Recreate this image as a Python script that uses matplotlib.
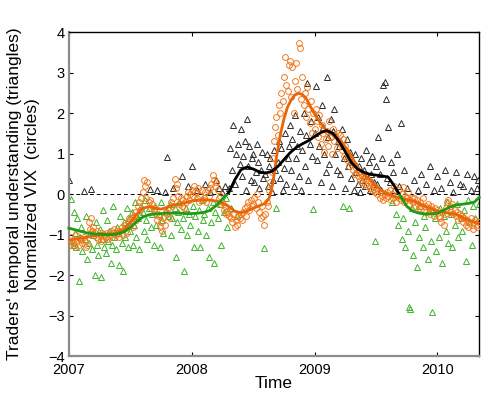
import numpy as np
import matplotlib
matplotlib.use('Agg')
import matplotlib.pyplot as plt
from matplotlib.patches import Rectangle

plt.rcParams['font.family'] = ['Liberation Sans', 'DejaVu Sans']

# observation dates (decimal years)
t = [2007.00, 2007.01, 2007.02, 2007.03, 2007.04, 2007.05, 2007.06, 2007.07, 2007.08, 2007.09,
     2007.10, 2007.11, 2007.12, 2007.13, 2007.14, 2007.15, 2007.16, 2007.17, 2007.18, 2007.19,
     2007.20, 2007.21, 2007.22, 2007.23, 2007.24, 2007.25, 2007.26, 2007.27, 2007.28, 2007.29,
     2007.30, 2007.31, 2007.32, 2007.33, 2007.34, 2007.35, 2007.36, 2007.37, 2007.38, 2007.39,
     2007.40, 2007.41, 2007.42, 2007.43, 2007.44, 2007.45, 2007.46, 2007.47, 2007.48, 2007.49,
     2007.50, 2007.51, 2007.52, 2007.53, 2007.54, 2007.55, 2007.56, 2007.57, 2007.58, 2007.59,
     2007.60, 2007.61, 2007.62, 2007.63, 2007.64, 2007.65, 2007.66, 2007.67, 2007.68, 2007.69,
     2007.70, 2007.71, 2007.72, 2007.73, 2007.74, 2007.75, 2007.76, 2007.77, 2007.78, 2007.79,
     2007.80, 2007.81, 2007.82, 2007.83, 2007.84, 2007.85, 2007.86, 2007.87, 2007.88, 2007.89,
     2007.90, 2007.91, 2007.92, 2007.93, 2007.94, 2007.95, 2007.96, 2007.97, 2007.98, 2007.99,
     2008.00, 2008.01, 2008.02, 2008.03, 2008.04, 2008.05, 2008.06, 2008.07, 2008.08, 2008.09,
     2008.10, 2008.11, 2008.12, 2008.13, 2008.14, 2008.15, 2008.16, 2008.17, 2008.18, 2008.19,
     2008.20, 2008.21, 2008.22, 2008.23, 2008.24, 2008.25, 2008.26, 2008.27, 2008.28, 2008.29,
     2008.30, 2008.31, 2008.32, 2008.33, 2008.34, 2008.35, 2008.36, 2008.37, 2008.38, 2008.39,
     2008.40, 2008.41, 2008.42, 2008.43, 2008.44, 2008.45, 2008.46, 2008.47, 2008.48, 2008.49,
     2008.50, 2008.51, 2008.52, 2008.53, 2008.54, 2008.55, 2008.56, 2008.57, 2008.58, 2008.59,
     2008.60, 2008.61, 2008.62, 2008.63, 2008.64, 2008.65, 2008.66, 2008.67, 2008.68, 2008.69,
     2008.70, 2008.71, 2008.72, 2008.73, 2008.74, 2008.75, 2008.76, 2008.77, 2008.78, 2008.79,
     2008.80, 2008.81, 2008.82, 2008.83, 2008.84, 2008.85, 2008.86, 2008.87, 2008.88, 2008.89,
     2008.90, 2008.91, 2008.92, 2008.93, 2008.94, 2008.95, 2008.96, 2008.97, 2008.98, 2008.99,
     2009.00, 2009.01, 2009.02, 2009.03, 2009.04, 2009.05, 2009.06, 2009.07, 2009.08, 2009.09,
     2009.10, 2009.11, 2009.12, 2009.13, 2009.14, 2009.15, 2009.16, 2009.17, 2009.18, 2009.19,
     2009.20, 2009.21, 2009.22, 2009.23, 2009.24, 2009.25, 2009.26, 2009.27, 2009.28, 2009.29,
     2009.30, 2009.31, 2009.32, 2009.33, 2009.34, 2009.35, 2009.36, 2009.37, 2009.38, 2009.39,
     2009.40, 2009.41, 2009.42, 2009.43, 2009.44, 2009.45, 2009.46, 2009.47, 2009.48, 2009.49,
     2009.50, 2009.51, 2009.52, 2009.53, 2009.54, 2009.55, 2009.56, 2009.57, 2009.58, 2009.59,
     2009.60, 2009.61, 2009.62, 2009.63, 2009.64, 2009.65, 2009.66, 2009.67, 2009.68, 2009.69,
     2009.70, 2009.71, 2009.72, 2009.73, 2009.74, 2009.75, 2009.76, 2009.77, 2009.78, 2009.79,
     2009.80, 2009.81, 2009.82, 2009.83, 2009.84, 2009.85, 2009.86, 2009.87, 2009.88, 2009.89,
     2009.90, 2009.91, 2009.92, 2009.93, 2009.94, 2009.95, 2009.96, 2009.97, 2009.98, 2009.99,
     2010.00, 2010.01, 2010.02, 2010.03, 2010.04, 2010.05, 2010.06, 2010.07, 2010.08, 2010.09,
     2010.10, 2010.11, 2010.12, 2010.13, 2010.14, 2010.15, 2010.16, 2010.17, 2010.18, 2010.19,
     2010.20, 2010.21, 2010.22, 2010.23, 2010.24, 2010.25, 2010.26, 2010.27, 2010.28, 2010.29,
     2010.30, 2010.31, 2010.32, 2010.33, 2010.34]

# traders' temporal understanding (triangles)
understanding = [
    0.35, -1.15, -0.12, -1.25, -0.45, -0.95, -1.3, -0.6, -2.15, -1.05,
    -0.8, -1.4, 0.07, -1.1, -0.55, -1.6, -1.2, -0.95, 0.12, -1.35,
    -1.0, -2.0, -0.7, -1.25, -1.5, -0.85, -2.05, -1.1, -0.4, -1.3,
    -1.45, -0.65, -1.15, -0.9, -1.7, -1.25, -0.3, -1.05, -1.35, -0.8,
    -0.95, -1.75, -0.55, -1.2, -1.9, -0.7, -1.05, -0.35, -1.3, -0.6,
    -0.9, -0.45, -1.25, -0.75, -0.2, -1.05, -0.6, -1.35, -0.5, -0.3,
    -0.45, -0.9, -0.15, -0.65, -1.1, -0.35, 0.12, -0.8, -0.5, -1.25,
    -0.3, -0.75, 0.1, -0.5, -1.3, -0.2, -0.65, -0.95, 0.05, -0.4,
    0.91, -0.55, -0.25, -1.0, -0.6, 0.15, -0.35, -1.55, -0.7, -0.45,
    -0.2, -0.85, 0.45, -0.6, -1.9, -0.35, -1.0, 0.2, -0.5, -0.75,
    0.69, -0.3, -1.3, -0.55, 0.1, -0.9, -0.4, -1.3, -0.15, -0.65,
    -0.5, 0.25, -1.0, -0.35, -1.55, 0.05, -0.7, -0.2, -1.7, -0.45,
    0.35, -0.6, 0.15, -0.25, -1.25, 0.05, -0.45, 0.2, -0.1, -0.8,
    0.15, 1.15, -0.35, 0.6, 1.7, 0.25, 1.0, -0.55, 1.25, 0.75,
    1.6, 0.45, 0.95, 1.3, 0.1, 1.85, 0.7, 1.2, 0.35, 0.9,
    1.0, 0.3, 0.55, 1.25, 0.8, 0.15, 0.6, 1.05, 0.4, -1.33,
    0.5, 1.0, 0.2, 0.7, 0.9, 0.05, 0.35, 1.1, 0.6, -0.35,
    0.8, 1.3, 0.4, 1.15, 0.1, 0.65, 1.5, 0.25, 0.9, 1.2,
    1.7, 0.6, 1.35, 0.2, 1.95, 0.9, 1.2, 0.45, 1.55, 0.1,
    1.1, 2.0, 0.7, 1.45, 2.74, 0.35, 1.25, 1.8, 0.95, -0.37,
    1.5, 2.67, 0.85, 1.9, 1.2, 0.3, 2.2, 1.65, 1.0, 0.55,
    2.89, 1.4, 0.75, 1.85, 0.2, 1.55, 2.1, 1.0, 0.6, 1.3,
    1.2, 0.5, 1.6, -0.3, 0.9, 0.15, 1.35, 0.7, -0.35, 1.05,
    0.4, 0.8, 0.1, 1.0, 0.55, 0.25, 0.7, 0.05, 0.9, 0.35,
    0.6, 0.2, 1.1, 0.45, 0.8, 0.1, 0.5, 0.95, 0.3, -1.16,
    0.7, 0.25, 1.4, 0.5, 0.1, 0.9, 2.69, 2.76, 2.35, 0.4,
    1.65, 0.3, 0.8, -0.2, 0.55, 0.1, -0.5, 1.0, -0.75, 0.2,
    1.75, -1.1, -0.6, 0.6, -1.3, 0.15, -0.9, -2.79, -2.84, -0.35,
    -1.5, 0.35, -0.7, -1.8, 0.1, -1.05, -0.3, 0.5, -1.3, -0.55,
    -0.8, 0.25, -1.6, -0.4, 0.7, -1.15, -2.91, 0.1, -0.6, -1.4,
    0.45, -1.05, -0.35, 0.15, -1.7, -0.55, 0.6, -0.9, -0.2, -1.2,
    0.3, -0.5, -1.3, 0.05, -0.75, 0.55, -0.25, -1.05, 0.25, -0.6,
    -0.9, 0.2, -0.4, -1.65, 0.5, -0.15, -0.7, 0.1, -1.25, -0.3,
    0.45, -0.6, 0.15, 0.35, -0.25]

# normalized VIX (circles)
vix = [
    -1.15, -1.25, -1.05, -1.2, -1.1, -1.3, -1.0, -1.15, -1.25, -1.1,
    -1.1, -1.2, -1.05, -1.15, -1.3, -1.25, -0.7, -0.85, -0.6, -0.9,
    -0.8, -0.95, -1.05, -0.9, -1.1, -1.0, -1.15, -0.95, -1.1, -1.0,
    -1.05, -0.95, -1.1, -1.0, -0.9, -1.05, -0.95, -0.85, -1.0, -0.9,
    -0.95, -1.05, -0.9, -0.8, -1.0, -0.85, -0.75, -0.95, -0.7, -0.6,
    -0.75, -0.6, -0.8, -0.55, -0.45, -0.65, -0.3, -0.2, -0.4, -0.1,
    0.05, 0.35, 0.2, -0.1, 0.3, -0.2, -0.15, -0.35, -0.25, -0.4,
    -0.35, -0.5, -0.65, -0.55, -0.8, -0.7, -0.9, -0.6, -0.75, -0.45,
    -0.5, -0.35, -0.6, -0.2, -0.3, -0.1, 0.37, 0.15, 0.24, -0.05,
    -0.25, -0.1, -0.3, -0.15, -0.35, -0.2, -0.05, 0.05, -0.15, 0.0,
    0.1, -0.05, 0.2, 0.05, -0.1, 0.15, -0.2, -0.05, 0.1, -0.15,
    -0.1, 0.05, -0.2, 0.1, -0.05, 0.15, 0.25, 0.47, 0.35, 0.2,
    0.3, 0.1, -0.1, -0.05, -0.25, -0.2, -0.4, -0.3, -0.5, -0.45,
    -0.55, -0.4, -0.6, -0.7, -0.5, -0.8, -0.65, -0.75, -0.55, -0.6,
    -0.5, -0.65, -0.45, -0.35, -0.55, -0.3, -0.2, -0.4, -0.15, -0.3,
    -0.25, -0.1, -0.35, 0.0, -0.2, -0.45, -0.6, -0.3, -0.55, -0.75,
    -0.5, -0.2, -0.3, 0.1, 0.3, 0.55, 0.9, 1.3, 1.65, 1.9,
    1.45, 2.2, 2.0, 2.5, 2.3, 2.9, 3.38, 2.7, 2.55, 3.2,
    3.3, 2.4, 3.15, 2.0, 2.8, 3.25, 2.6, 3.73, 3.6, 2.35,
    2.9, 2.2, 2.5, 1.9, 2.65, 2.1, 1.75, 2.3, 1.5, 2.0,
    1.6, 2.1, 1.8, 1.4, 1.95, 1.25, 1.7, 1.5, 1.05, 1.35,
    1.55, 1.2, 1.8, 1.4, 1.0, 1.6, 1.3, 1.45, 1.15, 1.5,
    1.3, 1.45, 1.1, 1.35, 0.95, 1.2, 0.85, 1.0, 0.7, 0.9,
    0.8, 0.6, 0.75, 0.5, 0.65, 0.45, 0.55, 0.35, 0.5, 0.3,
    0.4, 0.25, 0.45, 0.2, 0.35, 0.15, 0.3, 0.1, 0.2, 0.05,
    0.15, 0.0, 0.1, -0.1, 0.05, -0.05, -0.15, 0.0, -0.1, 0.05,
    -0.05, 0.1, -0.15, 0.0, -0.1, 0.2, -0.2, -0.05, 0.1, -0.1,
    -0.15, 0.0, 0.17, -0.2, -0.05, -0.1, 0.05, -0.25, -0.15, -0.1,
    -0.2, -0.1, -0.3, -0.15, -0.25, -0.35, -0.2, -0.3, -0.1, -0.4,
    -0.3, -0.45, -0.25, -0.35, -0.5, -0.3, -0.4, -0.55, -0.35, -0.45,
    -0.4, -0.55, -0.6, -0.7, -0.45, -0.75, -0.5, -0.35, -0.2, -0.15,
    -0.3, -0.45, -0.25, -0.5, -0.4, -0.55, -0.45, -0.65, -0.5, -0.6,
    -0.55, -0.7, -0.6, -0.75, -0.65, -0.8, -0.7, -0.6, -0.75, -0.85,
    -0.7, -0.65, -0.8, -0.75, -0.7]

# smoothed curves
trend_t = [2007.00, 2007.05, 2007.10, 2007.15, 2007.20, 2007.25, 2007.30, 2007.35, 2007.40, 2007.45,
           2007.50, 2007.55, 2007.60, 2007.65, 2007.70, 2007.75, 2007.80, 2007.85, 2007.90, 2007.95,
           2008.00, 2008.05, 2008.10, 2008.15, 2008.20, 2008.25, 2008.30, 2008.35, 2008.40, 2008.45,
           2008.50, 2008.55, 2008.60, 2008.65, 2008.70, 2008.75, 2008.80, 2008.85, 2008.90, 2008.95,
           2009.00, 2009.05, 2009.10, 2009.15, 2009.20, 2009.25, 2009.30, 2009.35, 2009.40, 2009.45,
           2009.50, 2009.55, 2009.60, 2009.65, 2009.70, 2009.75, 2009.80, 2009.85, 2009.90, 2009.95,
           2010.00, 2010.05, 2010.10, 2010.15, 2010.20, 2010.25, 2010.30, 2010.34]
trend_v = [-0.84, -0.88, -0.92, -0.96, -0.98, -0.99, -1.00, -1.00, -0.98, -0.93,
           -0.82, -0.68, -0.57, -0.51, -0.49, -0.48, -0.47, -0.47, -0.47, -0.48,
           -0.48, -0.47, -0.45, -0.40, -0.28, -0.12, 0.03, 0.35, 0.60, 0.67,
           0.62, 0.55, 0.52, 0.56, 0.68, 0.85, 1.02, 1.15, 1.24, 1.32,
           1.42, 1.52, 1.57, 1.50, 1.30, 1.05, 0.78, 0.62, 0.54, 0.49,
           0.47, 0.45, 0.42, 0.20, -0.05, -0.30, -0.42, -0.47, -0.49, -0.49,
           -0.47, -0.40, -0.32, -0.27, -0.25, -0.23, -0.20, -0.08]

vix_trend_t = [2007.00, 2007.05, 2007.10, 2007.15, 2007.20, 2007.25, 2007.30, 2007.35, 2007.40, 2007.45,
               2007.50, 2007.55, 2007.60, 2007.65, 2007.70, 2007.75, 2007.80, 2007.85, 2007.90, 2007.95,
               2008.00, 2008.05, 2008.10, 2008.15, 2008.20, 2008.25, 2008.30, 2008.35, 2008.40, 2008.45,
               2008.50, 2008.55, 2008.60, 2008.63, 2008.66, 2008.69, 2008.72, 2008.75, 2008.78, 2008.81,
               2008.84, 2008.87, 2008.90, 2008.93, 2008.96, 2008.99, 2009.02, 2009.05, 2009.08, 2009.11,
               2009.15, 2009.18, 2009.22, 2009.27, 2009.31, 2009.35, 2009.40, 2009.45, 2009.50, 2009.55,
               2009.60, 2009.65, 2009.70, 2009.75, 2009.80, 2009.85, 2009.90, 2009.95, 2010.00, 2010.05,
               2010.10, 2010.15, 2010.20, 2010.25, 2010.30, 2010.34]
vix_trend_v = [-1.14, -1.11, -1.09, -1.06, -1.03, -1.01, -0.99, -0.98, -0.96, -0.87,
               -0.70, -0.50, -0.35, -0.31, -0.34, -0.37, -0.33, -0.27, -0.24, -0.21,
               -0.17, -0.15, -0.14, -0.15, -0.17, -0.22, -0.30, -0.42, -0.46, -0.42,
               -0.35, -0.29, -0.22, -0.10, 0.26, 0.91, 1.45, 1.85, 2.15, 2.33,
               2.45, 2.49, 2.46, 2.37, 2.20, 2.03, 1.88, 1.75, 1.63, 1.53,
               1.46, 1.41, 1.28, 1.09, 0.88, 0.67, 0.49, 0.35, 0.20, 0.08,
               0.00, -0.06, -0.10, -0.13, -0.17, -0.23, -0.30, -0.36, -0.42, -0.45,
               -0.47, -0.50, -0.57, -0.64, -0.69, -0.71]

x_ticks = [2007, 2008, 2009, 2010]
y_ticks = [-4, -3, -2, -1, 0, 1, 2, 3, 4]

orange = '#f07a1e'
orange_line = '#e8650a'
green = '#3db52a'
green_line = '#1f9a12'

t = np.array(t)
understanding = np.array(understanding)
vix = np.array(vix)

fig = plt.figure(figsize=(4.85, 3.97), dpi=100)
ax = fig.add_axes([0.142, 0.103, 0.846, 0.816])

ax.axhline(0, color='k', linestyle=(0, (4, 3)), linewidth=0.7, zorder=1)

pos = understanding >= 0
ax.plot(t[pos], understanding[pos], linestyle='none', marker='^', markersize=4.3,
        markerfacecolor='none', markeredgecolor='#2a2a2a', markeredgewidth=0.7, zorder=2)
ax.plot(t[~pos], understanding[~pos], linestyle='none', marker='^', markersize=4.3,
        markerfacecolor='none', markeredgecolor=green, markeredgewidth=0.7, zorder=2)
ax.plot(t, vix, linestyle='none', marker='o', markersize=4.2,
        markerfacecolor='none', markeredgecolor=orange, markeredgewidth=0.7, zorder=3)

ax.plot(vix_trend_t, vix_trend_v, color=orange_line, linewidth=2, zorder=4)

# one curve, black above zero and green below
above, = ax.plot(trend_t, trend_v, color='k', linewidth=2, zorder=5)
below, = ax.plot(trend_t, trend_v, color=green_line, linewidth=2, zorder=5)
above.set_clip_path(Rectangle((2006, 0), 10, 10, transform=ax.transData))
below.set_clip_path(Rectangle((2006, -10), 10, 10, transform=ax.transData))

ax.set_xlim(2007, 2010.34)
ax.set_ylim(-4, 4)
ax.set_xticks(x_ticks)
ax.set_yticks(y_ticks)
ax.tick_params(direction='in', top=True, right=True, length=3, width=0.8, labelsize=10.5)
ax.tick_params(axis='x', pad=5)
ax.tick_params(axis='y', pad=3)
for side in ['left', 'bottom']:
    ax.spines[side].set_color('#8c8c8c')
    ax.spines[side].set_linewidth(1.6)
for side in ['top', 'right']:
    ax.spines[side].set_color('k')
    ax.spines[side].set_linewidth(1.0)

ax.set_xlabel('Time', fontsize=12.5, labelpad=-1)
ax.set_ylabel("Traders' temporal understanding (triangles)\nNormalized VIX  (circles)", fontsize=12.5,
              labelpad=6, linespacing=1.2)

fig.savefig('out.png', dpi=100)
